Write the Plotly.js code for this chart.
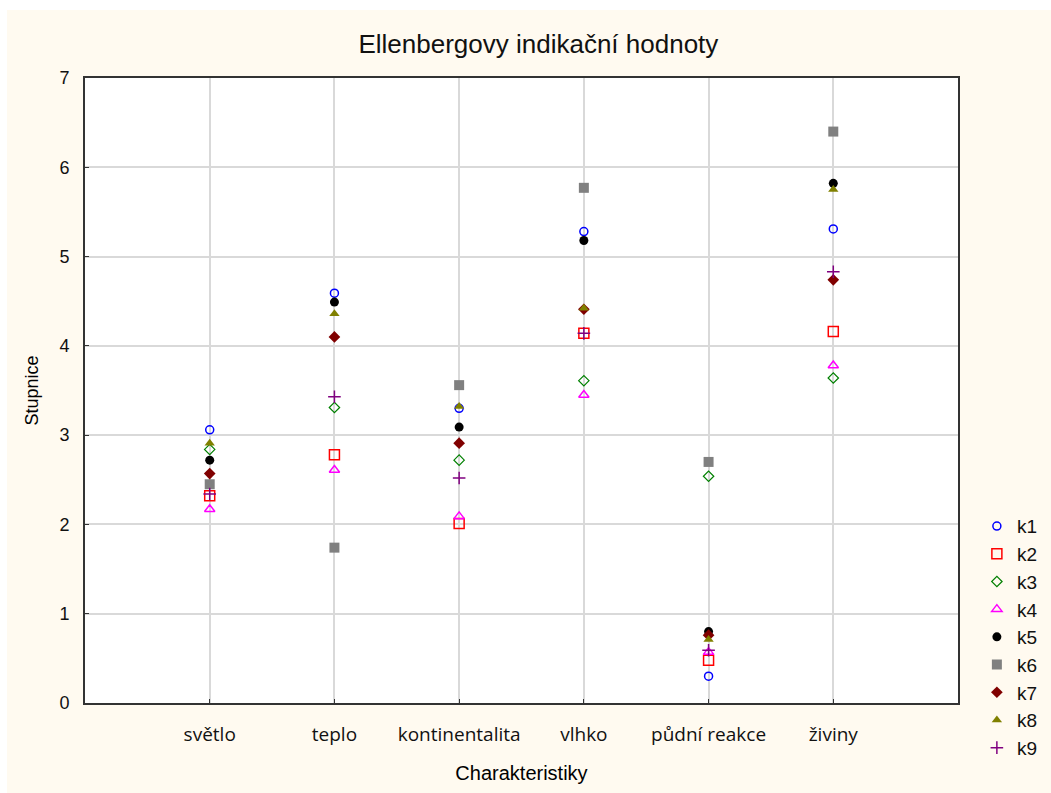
<!DOCTYPE html>
<html>
<head>
<meta charset="utf-8">
<script src="https://cdn.plot.ly/plotly-3.0.1.min.js"></script>
<style>
html,body{margin:0;padding:0;background:#ffffff;}
#chart{position:absolute;left:7px;top:10px;width:1044px;height:783px;}
</style>
</head>
<body>
<div id="chart"></div>
<script>
const categories = ["světlo", "teplo", "kontinentalita", "vlhko", "půdní reakce", "živiny"];
const categoryPositions = [1, 2, 3, 4, 5, 6];
const seriesNames = ["k1", "k2", "k3", "k4", "k5", "k6", "k7", "k8", "k9"];
const k1 = [3.06, 4.59, 3.30, 5.28, 0.30, 5.31];
const k2 = [2.32, 2.78, 2.01, 4.14, 0.48, 4.16];
const k3 = [2.84, 3.31, 2.72, 3.61, 2.54, 3.64];
const k4 = [2.17, 2.61, 2.09, 3.45, 0.57, 3.78];
const k5 = [2.72, 4.49, 3.09, 5.18, 0.80, 5.82];
const k6 = [2.45, 1.74, 3.56, 5.77, 2.70, 6.40];
const k7 = [2.57, 4.10, 2.91, 4.41, 0.76, 4.74];
const k8 = [2.91, 4.36, 3.32, 4.42, 0.71, 5.75];
const k9 = [2.34, 3.43, 2.52, 4.14, 0.59, 4.83];
const yTickVals = [0, 1, 2, 3, 4, 5, 6, 7];

const seriesValues = [k1, k2, k3, k4, k5, k6, k7, k8, k9];
const styles = [
  {symbol: "circle-open", color: "#0000ff", size: 8, lw: 1.5},
  {symbol: "square-open", color: "#ff0000", size: 10, lw: 1.5},
  {symbol: "diamond-open", color: "#008000", size: 8, lw: 1.2},
  {symbol: "triangle-up-open", color: "#ff00ff", size: 9, lw: 1.5},
  {symbol: "circle", color: "#000000", size: 9, lw: 0},
  {symbol: "square", color: "#808080", size: 10, lw: 0},
  {symbol: "diamond", color: "#800000", size: 9, lw: 0},
  {symbol: "triangle-up", color: "#808000", size: 9, lw: 0},
  {symbol: "cross-thin-open", color: "#800080", size: 9, lw: 1.5}
];

const traces = seriesNames.map((name, i) => ({
  type: "scatter",
  mode: "markers",
  name: name,
  x: categoryPositions,
  y: seriesValues[i],
  marker: {
    symbol: styles[i].symbol,
    color: styles[i].color,
    size: styles[i].size,
    line: {color: styles[i].color, width: styles[i].lw}
  },
  cliponaxis: false
}));

const layout = {
  width: 1044,
  height: 783,
  paper_bgcolor: "#fffaf0",
  plot_bgcolor: "#ffffff",
  margin: {l: 78, r: 93, t: 68, b: 90},
  font: {family: "Liberation Sans, Arial, sans-serif", color: "#000000"},
  title: {
    text: "Ellenbergovy indikační hodnoty",
    font: {size: 26, family: "Liberation Sans, Arial, sans-serif", color: "#111111"},
    x: 0.509, xanchor: "center", y: 0.957, yanchor: "middle"
  },
  xaxis: {
    range: [0, 7],
    tickmode: "array",
    tickvals: categoryPositions,
    ticktext: categories,
    tickfont: {size: 19, family: "Open Sans, Noto Sans, sans-serif", color: "#111111"},
    ticks: "inside",
    ticklen: 4,
    tickcolor: "#333333",
    showgrid: true,
    gridcolor: "#d9d9d9",
    gridwidth: 1.5,
    showline: true,
    linecolor: "#333333",
    linewidth: 2,
    mirror: true,
    zeroline: false,
    ticklabelstandoff: 13,
    title: {text: "Charakteristiky", font: {size: 20, family: "Liberation Sans, Arial, sans-serif"}, standoff: 20}
  },
  yaxis: {
    range: [0, 7],
    tickmode: "array",
    tickvals: yTickVals,
    tickfont: {size: 18, family: "Liberation Sans, Arial, sans-serif", color: "#111111"},
    ticks: "inside",
    ticklen: 4,
    tickcolor: "#333333",
    showgrid: true,
    gridcolor: "#d9d9d9",
    gridwidth: 1.5,
    showline: true,
    linecolor: "#333333",
    linewidth: 2,
    mirror: true,
    zeroline: false,
    ticklabelstandoff: 10,
    title: {text: "Stupnice", font: {size: 18, family: "Liberation Sans, Arial, sans-serif"}, standoff: 16}
  },
  showlegend: true,
  legend: {
    xref: "container", yref: "container",
    x: 0.929, xanchor: "left",
    y: 0.365, yanchor: "top",
    bgcolor: "rgba(0,0,0,0)",
    font: {size: 19, family: "Liberation Sans, Arial, sans-serif", color: "#111111"},
    itemwidth: 30,
    tracegroupgap: 0
  }
};

Plotly.newPlot("chart", traces, layout, {displayModeBar: false, responsive: false});
</script>
</body>
</html>
